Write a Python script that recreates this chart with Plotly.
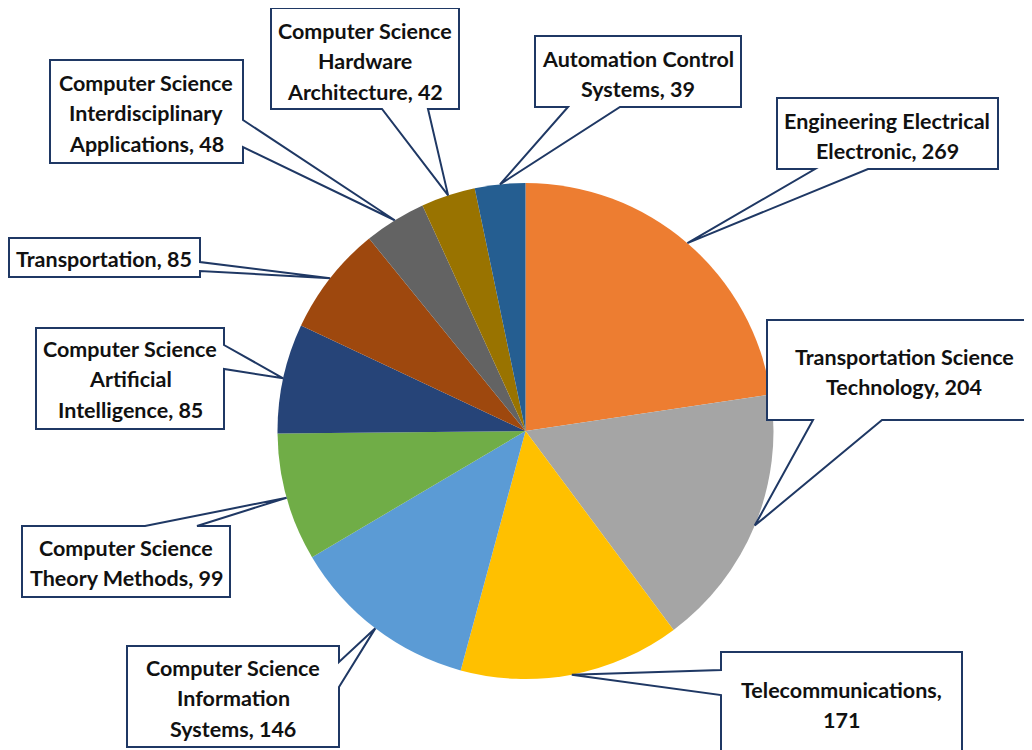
import math
import plotly.graph_objects as go

# research areas and record counts, clockwise from 12 o'clock
categories = ["Engineering Electrical Electronic", "Transportation Science Technology",
              "Telecommunications", "Computer Science Information Systems",
              "Computer Science Theory Methods", "Computer Science Artificial Intelligence",
              "Transportation", "Computer Science Interdisciplinary Applications",
              "Computer Science Hardware Architecture", "Automation Control Systems"]
values = [269, 204, 171, 146, 99, 85, 85, 48, 42, 39]
colors = ["#ED7D31", "#A5A5A5", "#FFC000", "#5B9BD5", "#70AD47",
          "#264478", "#9E480E", "#636363", "#997300", "#255E91"]

W, H = 1032, 750
OFF = 8  # page body margin, so axis units == window pixels
CX, CY, R = 525.5, 431, 248  # pie centre / radius in window px

# callout boxes: (x0, y0, x1, y1), side of the wedge, wedge base (a, b), words per line
callouts = [
    ((777, 98, 998, 169), "bottom", (815, 868), [2, 2]),
    ((767, 320, 1045, 420), "bottom", (813, 882), [2, 2]),
    ((721, 652, 962, 770), "left", (670, 695), [1, 1]),
    ((127, 646, 339, 747), "right", (662, 687), [2, 1, 2]),
    ((22, 526, 230, 597), "top", (145, 197), [2, 3]),
    ((36, 328, 224, 429), "right", (345, 369), [2, 1, 2]),
    ((9, 238, 200, 277), "right", (262, 271), [2]),
    ((50, 60, 243, 163), "right", (120, 147), [2, 1, 2]),
    ((271, 8, 459, 109), "bottom", (382, 428), [2, 1, 2]),
    ((535, 36, 741, 107), "bottom", (568, 620), [2, 2]),
]
text_centres = [(887, 136), (904, 372), (841, 705), (233, 698), (126, 563),
                (130, 379), (104, 259), (146, 113), (365, 61), (638, 74)]


def callout_path(box, side, base, tip):
    x0, y0, x1, y1 = box
    a, b = base
    tx, ty = tip
    if side == "top":
        pts = [(x0, y0), (a, y0), (tx, ty), (b, y0), (x1, y0), (x1, y1), (x0, y1)]
    elif side == "right":
        pts = [(x0, y0), (x1, y0), (x1, a), (tx, ty), (x1, b), (x1, y1), (x0, y1)]
    elif side == "bottom":
        pts = [(x0, y0), (x1, y0), (x1, y1), (b, y1), (tx, ty), (a, y1), (x0, y1)]
    else:
        pts = [(x0, y0), (x1, y0), (x1, y1), (x0, y1), (x0, b), (tx, ty), (x0, a)]
    return "M " + " L ".join(f"{x},{y}" for x, y in pts) + " Z"


fig = go.Figure()
cx_fig, cy_fig = CX - OFF, CY - OFF
fig.add_trace(go.Pie(
    labels=categories, values=values, sort=False, direction="clockwise", rotation=0,
    marker=dict(colors=colors, line=dict(width=0)),
    textinfo="none", hoverinfo="label+value", showlegend=False,
    domain=dict(x=[(cx_fig - R) / W, (cx_fig + R) / W],
                y=[(H - cy_fig - R) / H, (H - cy_fig + R) / H]),
))

total = sum(values)
cum = 0
for i, (cat, v) in enumerate(zip(categories, values)):
    # tip sits on the rim at the slice's mid angle
    mid = (cum + v / 2) / total * 2 * math.pi
    cum += v
    tip = (CX + R * math.sin(mid), CY - R * math.cos(mid))
    box, side, base, wrap = callouts[i]
    fig.add_shape(type="path", path=callout_path(box, side, base, tip),
                  xref="x", yref="y", fillcolor="white",
                  line=dict(color="#1F3864", width=2), layer="above")

    words = f"{cat}, {v}".split(" ")
    lines, k = [], 0
    for n in wrap:
        lines.append(" ".join(words[k:k + n]))
        k += n
    tx, ty = text_centres[i]
    for j, ln in enumerate(lines):
        fig.add_annotation(x=tx, y=ty + (j - (len(lines) - 1) / 2) * 30.5,
                           xref="x", yref="y", text=ln, showarrow=False,
                           font=dict(family="Lato", size=21.5, color="#111111", weight="bold"))

fig.update_xaxes(range=[OFF, W + OFF], visible=False, fixedrange=True)
fig.update_yaxes(range=[H + OFF, OFF], visible=False, fixedrange=True)
fig.update_layout(width=W, height=H, margin=dict(l=0, r=0, t=0, b=0),
                  paper_bgcolor="white", plot_bgcolor="white")

fig.write_html("out.html")
